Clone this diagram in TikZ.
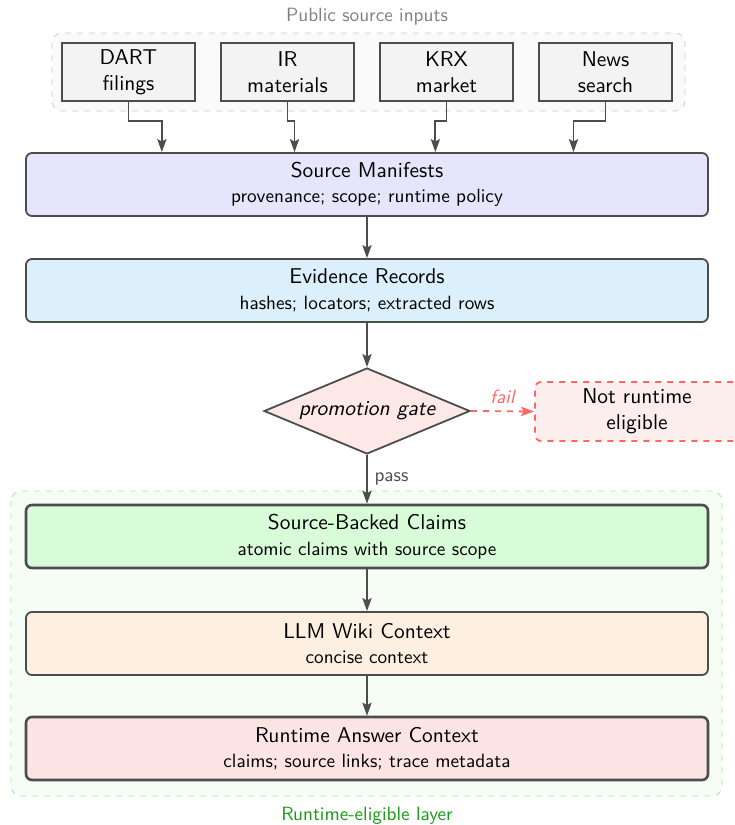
\documentclass[tikz,border=0pt]{standalone}
\usepackage{tikz}
\usetikzlibrary{positioning,arrows,arrows.meta,shapes.geometric,calc}

\definecolor{lineGray}{HTML}{4D4D4D}
\definecolor{srcFill}{HTML}{F3F3F3}
\definecolor{groupFill}{HTML}{FAFAFA}
\definecolor{groupLine}{HTML}{CCCCCC}
\definecolor{manFill}{HTML}{E5E5FC}
\definecolor{evFill}{HTML}{DBF0FB}
\definecolor{gateFill}{HTML}{FDE8E8}
\definecolor{failRed}{HTML}{FF6666}
\definecolor{rejectFill}{HTML}{FDEEEE}
\definecolor{layerFill}{HTML}{F5FDF5}
\definecolor{layerLine}{HTML}{99F099}
\definecolor{layerGreen}{HTML}{1A991A}
\definecolor{claimFill}{HTML}{D8FCD8}
\definecolor{wikiFill}{HTML}{FEF0E0}
\definecolor{ansFill}{HTML}{FDE4E4}

\newcommand{\mainsize}{\fontsize{10.7}{12.8}\selectfont}
\newcommand{\subsize}{\fontsize{9.6}{11.5}\selectfont}
\newcommand{\sublabel}[1]{{\subsize #1}}

\begin{document}
\begin{tikzpicture}[x=0.5pt,y=-0.5pt,font=\sffamily\mainsize,
	src/.style={draw=lineGray,fill=srcFill,line width=0.9pt,minimum width=66.5pt,minimum height=29pt,align=center},
	stage/.style={draw=lineGray,line width=0.9pt,rounded corners=3pt,minimum width=341pt,minimum height=31.5pt,align=center},
	gate/.style={diamond,aspect=2.4,draw=lineGray,fill=gateFill,line width=0.9pt,inner sep=0pt,minimum width=103pt,minimum height=43pt,font=\sffamily\mainsize\itshape},
	reject/.style={draw=failRed,dashed,fill=rejectFill,line width=0.9pt,rounded corners=3pt,minimum width=102pt,minimum height=29.5pt,align=center},
	flow/.style={-{Stealth[length=6.5pt,width=4.6pt,inset=1.2pt]},draw=lineGray,line width=0.9pt}]
	\useasboundingbox (0,0) rectangle (734,825);
	% Public source inputs
	\draw[dashed,draw=groupLine,fill=groupFill,rounded corners=5pt] (52,33) rectangle (685,111);
	\node[text=gray,font=\sffamily\subsize] (inTitle) at (367,17) {Public source inputs};
	\node[src] (dart) at (128.5,72) {DART\\filings};
	\node[src,on grid,right=79.5pt of dart] (ir) {IR\\materials};
	\node[src,on grid,right=79.5pt of ir] (krx) {KRX\\market};
	\node[src,on grid,right=79.5pt of krx] (news) {News\\search};
	% Main column
	\node[stage,fill=manFill] (manifest) at (367,184.5) {Source Manifests\\\sublabel{provenance; scope; runtime policy}};
	\node[stage,fill=evFill] (evidence) at (367,290.5) {Evidence Records\\\sublabel{hashes; locators; extracted rows}};
	\node[gate] (gate) at (367,411) {promotion gate};
	\node[reject] (reject) at (637,411.5) {Not runtime\\eligible};
	% Runtime-eligible layer
	\draw[dashed,draw=layerLine,fill=layerFill,rounded corners=5pt] (11,491) rectangle (722,796);
	\node[text=layerGreen,font=\sffamily\subsize] (layerTitle) at (367,816) {Runtime-eligible layer};
	\node[stage,fill=claimFill,line width=1.3pt] (claims) at (367,536.5) {Source-Backed Claims\\\sublabel{atomic claims with source scope}};
	\node[stage,fill=wikiFill] (wiki) at (367,643.5) {LLM Wiki Context\\\sublabel{concise context}};
	\node[stage,fill=ansFill,line width=1.3pt] (answer) at (367,748.5) {Runtime Answer Context\\\sublabel{claims; source links; trace metadata}};
	% Connectors
	\foreach \s/\f in {dart/0.2,ir/0.394,krx/0.6,news/0.802}
		\draw[flow] (\s.south) -- ++(0,19) -| ($(manifest.north west)!\f!(manifest.north east)$);
	\draw[flow] (manifest) -- (evidence);
	\draw[flow] (evidence) -- (gate);
	\draw[flow,dashed,draw=failRed] (gate.east) -- node[above,font=\sffamily\subsize\itshape,text=failRed] {fail} (reject.west);
	\draw[flow] (gate) -- node[right,font=\sffamily\subsize,text=lineGray] {pass} (claims);
	\draw[flow] (claims) -- (wiki);
	\draw[flow] (wiki) -- (answer);
\end{tikzpicture}
\end{document}
